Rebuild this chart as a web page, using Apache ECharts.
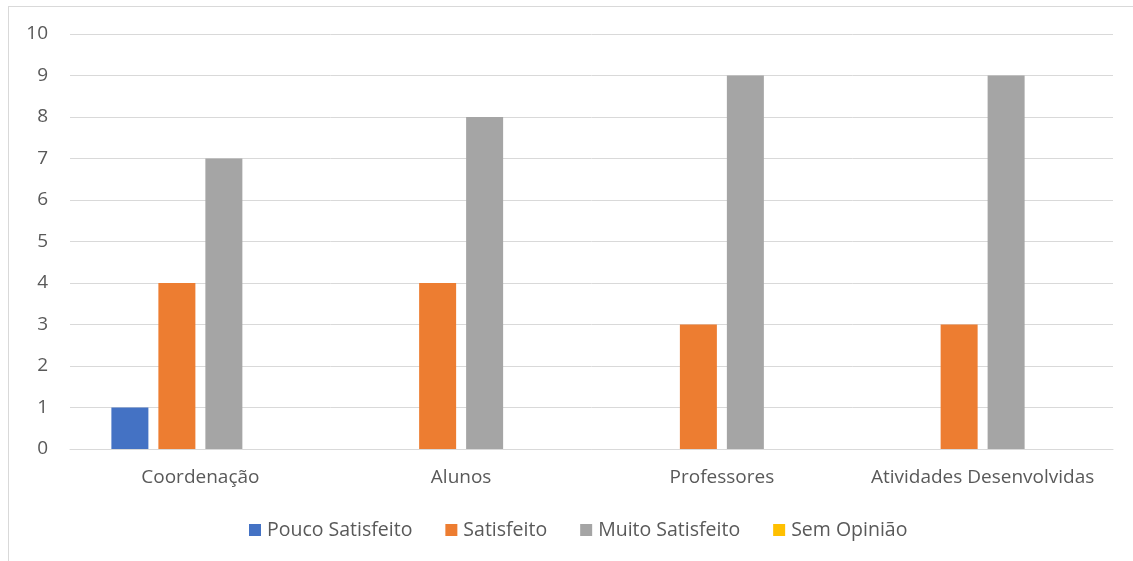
<!DOCTYPE html>
<html>
<head>
<meta charset="utf-8">
<script src="https://cdn.jsdelivr.net/npm/echarts@6/dist/echarts.min.js"></script>
<style>
html,body{margin:0;padding:0;background:#fff;}
#frame{position:absolute;left:8px;top:6px;width:1200px;height:600px;border:1px solid #d9d9d9;}
#chart{position:absolute;left:0;top:0;width:1133px;height:561px;}
</style>
</head>
<body>
<div id="frame"></div>
<div id="chart"></div>
<script>
const categories = ['Coordenação', 'Alunos', 'Professores', 'Atividades Desenvolvidas'];
const seriesNames = ['Pouco Satisfeito', 'Satisfeito', 'Muito Satisfeito', 'Sem Opinião'];
const pouco = [1, 0, 0, 0];
const satisfeito = [4, 4, 3, 3];
const muito = [7, 8, 9, 9];
const semOpiniao = [0, 0, 0, 0];
const colors = ['#4472C4', '#ED7D31', '#A5A5A5', '#FFC000'];
const values = [pouco, satisfeito, muito, semOpiniao];

const chart = echarts.init(document.getElementById('chart'));
const font = 'Open Sans';
const fs = 19;
chart.setOption({
  animation: false,
  grid: {left: 70, right: 20, top: 34, bottom: 112, containLabel: false},
  legend: {
    top: 515, left: 244,
    itemWidth: 12, itemHeight: 12, itemGap: 33,
    textStyle: {fontFamily: font, fontSize: 19.5, color: '#595959', padding: [0,0,0,1]},
    icon: 'rect',
    data: seriesNames
  },
  xAxis: {
    type: 'category', data: categories,
    axisLine: {lineStyle: {color: '#d9d9d9'}},
    axisTick: {show: false},
    axisLabel: {fontFamily: font, fontSize: fs, color: '#595959', margin: 19, interval: 0}
  },
  yAxis: {
    type: 'value', min: 0, max: 10, interval: 1,
    axisLine: {show: false}, axisTick: {show: false},
    splitLine: {lineStyle: {color: '#d9d9d9'}},
    axisLabel: {fontFamily: font, fontSize: fs, color: '#595959', margin: 22}
  },
  series: seriesNames.map((n, i) => ({
    name: n, type: 'bar', data: values[i],
    barWidth: 37, barGap: '27%',
    itemStyle: {color: colors[i]}
  }))
});
</script>
</body>
</html>
